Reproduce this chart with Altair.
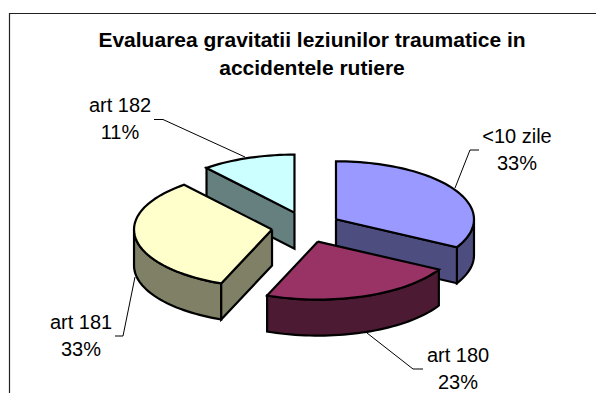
import math
import altair as alt
import pandas as pd

# Chart values
labels = ["<10 zile", "art 180", "art 181", "art 182"]
shares = [33, 23, 33, 11]
percent_text = ["33%", "23%", "33%", "11%"]
top_colors = ["#9999FF", "#993366", "#FFFFCC", "#CCFFFF"]
side_colors = ["#4D4D80", "#4D1A33", "#808066", "#668080"]
title_lines = ["Evaluarea gravitatii leziunilor traumatice in", "accidentele rutiere"]

# Layout of the tilted pie
CX, CY, RX, RY, DEPTH = 306.2, 227.1, 138.0, 58.0, 36.0
EX, EY = 34.6, 15.4
FONT = "Liberation Sans"
label_x = [517, 458, 81, 120]
label_y = [143, 362, 329, 112]
LINE_STEP = 26.5
leaders = [
    [(455, 188), (470, 150), (479, 150)],
    [(367, 333), (413, 369), (423, 369)],
    [(135, 277), (123, 336), (115, 336)],
    [(245, 157), (163, 119.5), (154, 119.5)],
]
frame = [(596, 13.5), (9.5, 13.5), (9.5, 393)]

xs = alt.Scale(domain=[8, 596], range=[0, 588], nice=False, zero=False)
ys = alt.Scale(domain=[8, 393], range=[0, 385], nice=False, zero=False)
X = alt.X("x:Q", scale=xs, axis=None)
Y = alt.Y("y:Q", scale=ys, axis=None)


def poly(points, fill, width=2.2):
    df = pd.DataFrame(points + [points[0]], columns=["x", "y"])
    df["o"] = range(len(df))
    return alt.Chart(df).mark_line(
        fill=fill, stroke="black", strokeWidth=width, strokeJoin="miter"
    ).encode(x=X, y=Y, order="o:Q")


def path(points, color="black", width=1.0):
    df = pd.DataFrame(points, columns=["x", "y"])
    df["o"] = range(len(df))
    return alt.Chart(df).mark_line(color=color, strokeWidth=width).encode(x=X, y=Y, order="o:Q")


def rim(c, deg):
    a = math.radians(deg)
    return (c[0] + RX * math.sin(a), c[1] - RY * math.cos(a))


def arc_points(c, a0, a1):
    n = max(2, int(abs(a1 - a0) / 2))
    return [rim(c, a0 + (a1 - a0) * i / n) for i in range(n + 1)]


def down(points):
    return [(p[0], p[1] + DEPTH) for p in points]


starts, ang = [], 0.0
for s in shares:
    starts.append(ang)
    ang += s * 3.6

layers = [path(frame, "#222222", 1.2)]
for i in [3, 0, 2, 1]:
    a0 = starts[i]
    a1 = a0 + shares[i] * 3.6
    mid = math.radians((a0 + a1) / 2)
    c = (CX + EX * math.sin(mid), CY - EY * math.cos(mid))
    # outer wall, only the part that faces the viewer
    w0, w1 = max(a0, 90.0), min(a1, 270.0)
    if w1 > w0:
        pts = arc_points(c, w0, w1)
        layers.append(poly(pts + down(pts)[::-1], side_colors[i]))
    # cut face that faces the viewer
    if i in (0, 3):
        cut = a1 if i == 0 else a0
        e = rim(c, cut)
        layers.append(poly([c, e, (e[0], e[1] + DEPTH), (c[0], c[1] + DEPTH)], side_colors[i]))
    if i == 2:
        e = rim(c, a0)
        layers.append(poly([c, e, (e[0], e[1] + DEPTH), (c[0], c[1] + DEPTH)], side_colors[i]))
    layers.append(poly([c] + arc_points(c, a0, a1), top_colors[i]))

for line in leaders:
    layers.append(path(line))

rows = []
for i, name in enumerate(labels):
    rows.append({"x": label_x[i], "y": label_y[i], "t": name})
    rows.append({"x": label_x[i], "y": label_y[i] + LINE_STEP, "t": percent_text[i]})
layers.append(
    alt.Chart(pd.DataFrame(rows)).mark_text(
        font=FONT, fontSize=20, color="black", align="center", baseline="alphabetic"
    ).encode(x=X, y=Y, text="t:N")
)

chart = alt.layer(*layers).properties(
    width=588,
    height=385,
    padding=0,
    autosize=alt.AutoSizeParams(type="none"),
    title=alt.TitleParams(
        text=title_lines,
        font=FONT,
        fontSize=21,
        fontWeight="bold",
        color="black",
        anchor="middle",
        frame="group",
        orient="top",
        baseline="alphabetic",
        lineHeight=28,
        dx=10,
        dy=88,
        offset=0,
    ),
).configure_view(stroke=None)

chart.save("out.html", embed_options={"renderer": "svg", "actions": False})
